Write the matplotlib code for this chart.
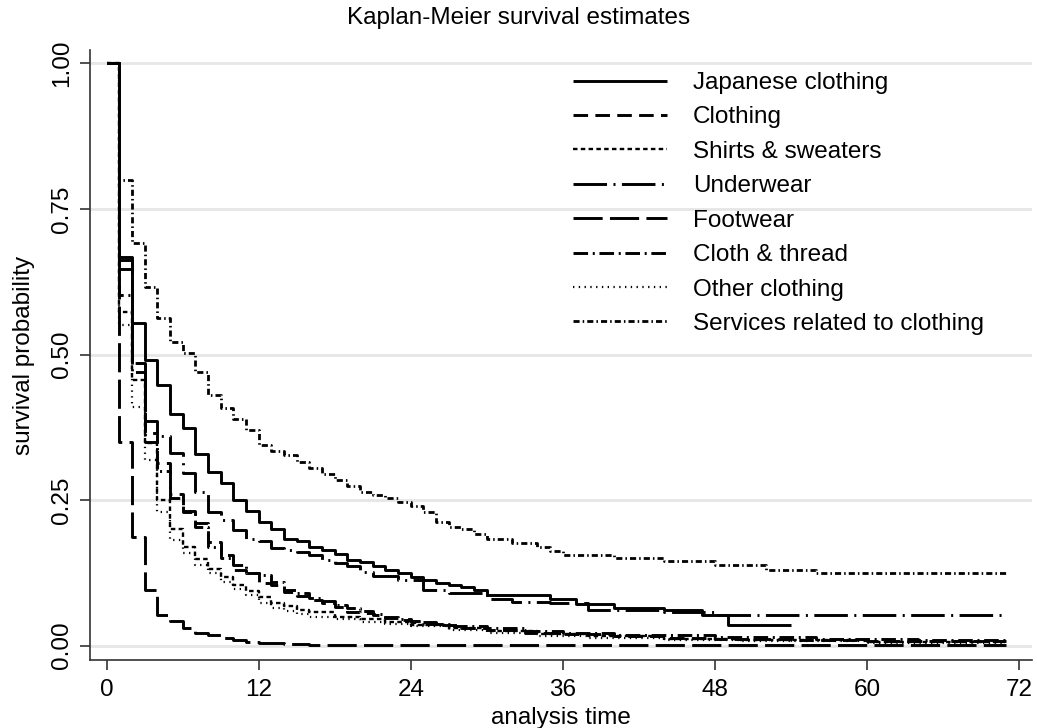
import matplotlib
matplotlib.use("Agg")
import matplotlib.pyplot as plt

plt.rcParams['font.family'] = ['Liberation Sans', 'DejaVu Sans']

# Kaplan-Meier step points (time in months, survival)
japanese_t = [0, 1, 2, 3, 4, 5, 6, 7, 8, 9, 10, 11, 12, 13, 14, 15, 16, 17, 18, 19, 20,
              21, 22, 23, 24, 25, 26, 27, 28, 29, 30, 35, 37, 40, 44, 47, 49, 54]
japanese_s = [1, 0.662, 0.554, 0.491, 0.448, 0.397, 0.373, 0.330, 0.298, 0.280, 0.250,
              0.232, 0.212, 0.200, 0.184, 0.179, 0.170, 0.164, 0.157, 0.147, 0.144,
              0.136, 0.130, 0.124, 0.118, 0.113, 0.108, 0.104, 0.100, 0.096, 0.087,
              0.081, 0.072, 0.064, 0.061, 0.052, 0.036, 0.036]

clothing_t = [0, 1, 2, 3, 4, 5, 6, 7, 8, 9, 10, 11, 12, 13, 14, 15, 16, 17, 18, 19, 20,
              21, 22, 23, 24, 26, 28, 30, 33, 36, 40, 44, 48, 54, 60, 71]
clothing_s = [1, 0.647, 0.485, 0.365, 0.313, 0.260, 0.232, 0.210, 0.178, 0.156, 0.130,
              0.125, 0.108, 0.104, 0.093, 0.085, 0.078, 0.073, 0.066, 0.058, 0.056,
              0.052, 0.047, 0.044, 0.040, 0.035, 0.030, 0.027, 0.022, 0.020, 0.016,
              0.013, 0.011, 0.010, 0.008, 0.008]

shirts_t = [0, 1, 2, 3, 4, 5, 6, 7, 8, 9, 10, 11, 12, 13, 14, 15, 16, 18, 20, 22, 24,
            27, 30, 34, 38, 44, 50, 60, 71]
shirts_s = [1, 0.573, 0.456, 0.348, 0.250, 0.200, 0.170, 0.148, 0.132, 0.118, 0.105,
            0.094, 0.083, 0.074, 0.068, 0.062, 0.057, 0.050, 0.045, 0.040, 0.036,
            0.031, 0.026, 0.020, 0.016, 0.012, 0.009, 0.006, 0.005]

underwear_t = [0, 1, 2, 3, 4, 5, 6, 7, 8, 9, 10, 11, 12, 13, 14, 15, 16, 17, 18, 19, 20,
               21, 23, 25, 27, 30, 32, 35, 38, 44, 48, 71]
underwear_s = [1, 0.668, 0.485, 0.385, 0.360, 0.331, 0.296, 0.264, 0.230, 0.216, 0.199,
               0.184, 0.179, 0.167, 0.164, 0.161, 0.156, 0.147, 0.142, 0.136, 0.127,
               0.120, 0.112, 0.096, 0.090, 0.080, 0.075, 0.073, 0.061, 0.058, 0.053,
               0.053]

footwear_t = [0, 1, 2, 3, 4, 5, 6, 7, 8, 9, 10, 11, 12, 14, 16, 20, 71]
footwear_s = [1, 0.350, 0.187, 0.096, 0.053, 0.042, 0.030, 0.022, 0.018, 0.013, 0.010,
              0.007, 0.005, 0.003, 0.002, 0.001, 0.001]

cloth_t = [0, 1, 2, 3, 4, 5, 6, 7, 8, 9, 10, 11, 12, 13, 14, 15, 16, 17, 18, 19, 20,
           21, 22, 23, 24, 25, 27, 30, 33, 36, 40, 48, 56, 64, 71]
cloth_s = [1, 0.603, 0.470, 0.350, 0.300, 0.253, 0.230, 0.204, 0.170, 0.150, 0.138,
           0.125, 0.121, 0.110, 0.096, 0.090, 0.082, 0.076, 0.069, 0.064, 0.059,
           0.055, 0.050, 0.046, 0.043, 0.038, 0.034, 0.030, 0.025, 0.022, 0.018,
           0.015, 0.012, 0.010, 0.010]

other_t = [0, 1, 2, 3, 4, 5, 6, 7, 8, 9, 10, 11, 12, 13, 14, 15, 16, 18, 20, 22, 24,
           27, 30, 34, 38, 44, 50, 60, 71]
other_s = [1, 0.550, 0.410, 0.319, 0.230, 0.181, 0.160, 0.139, 0.124, 0.110, 0.097,
           0.087, 0.073, 0.065, 0.059, 0.055, 0.050, 0.045, 0.041, 0.037, 0.033,
           0.027, 0.022, 0.017, 0.013, 0.010, 0.008, 0.005, 0.004]

services_t = [0, 1, 2, 3, 4, 5, 6, 7, 8, 9, 10, 11, 12, 13, 14, 15, 16, 17, 18, 19, 20,
              21, 22, 23, 24, 25, 26, 27, 28, 29, 30, 32, 34, 35, 36, 40, 44, 48, 52,
              56, 71]
services_s = [1, 0.800, 0.692, 0.616, 0.562, 0.522, 0.502, 0.470, 0.430, 0.408, 0.390,
              0.370, 0.345, 0.335, 0.327, 0.316, 0.305, 0.295, 0.285, 0.275, 0.264,
              0.259, 0.253, 0.246, 0.239, 0.230, 0.213, 0.204, 0.200, 0.192, 0.183,
              0.176, 0.170, 0.163, 0.156, 0.150, 0.145, 0.139, 0.130, 0.124, 0.124]

labels = ["Japanese clothing", "Clothing", "Shirts & sweaters", "Underwear",
          "Footwear", "Cloth & thread", "Other clothing", "Services related to clothing"]
series = [(japanese_t, japanese_s), (clothing_t, clothing_s), (shirts_t, shirts_s),
          (underwear_t, underwear_s), (footwear_t, footwear_s), (cloth_t, cloth_s),
          (other_t, other_s), (services_t, services_s)]
# dash patterns (in units of line width) and widths, per series
dash_styles = [None, (5.0, 2.5), (1.9, 1.4), (11.5, 2.2, 0.7, 2.2), (10.0, 2.5),
               (5.0, 1.6, 0.7, 1.6), (0.6, 2.0), (2.2, 1.1, 0.55, 1.1)]
widths = [2.1, 2.1, 1.7, 2.1, 2.1, 2.1, 1.6, 2.0]

fig = plt.figure(figsize=(10.37, 7.28), dpi=100)
ax = fig.add_axes([0.0868, 0.0934, 0.908, 0.838])

for (t, s), lab, d, w in zip(series, labels, dash_styles, widths):
    kw = dict(color='black', lw=w, drawstyle='steps-post', label=lab,
              solid_capstyle='butt', dash_capstyle='butt')
    if d is not None:
        kw['dashes'] = d
    ax.plot(t, s, **kw)

ax.set_xlim(-1.32, 73.0)
ax.set_ylim(-0.0246, 1.023)
ax.set_xticks([0, 12, 24, 36, 48, 60, 72])
ax.set_yticks([0, 0.25, 0.5, 0.75, 1.0])
ax.set_yticklabels(["0.00", "0.25", "0.50", "0.75", "1.00"], rotation=90, va='center')
ax.tick_params(axis='both', labelsize=17.5, length=7, width=1.2, color='#333333')
ax.tick_params(axis='y', pad=5)
ax.tick_params(axis='x', pad=7)
ax.grid(axis='y', color='#e6e6e6', lw=2)
ax.set_axisbelow(True)
for side in ['top', 'right']:
    ax.spines[side].set_visible(False)
for side in ['left', 'bottom']:
    ax.spines[side].set_linewidth(1.2)
    ax.spines[side].set_color('#333333')

ax.set_xlabel("analysis time", fontsize=17.5, labelpad=4)
ax.set_ylabel("survival probability", fontsize=17.5, labelpad=12)
fig.text(0.5, 0.975, "Kaplan-Meier survival estimates", fontsize=17.5,
         ha='center', va='center')

ax.legend(loc='upper left', bbox_to_anchor=(0.5525, 0.901),
          bbox_transform=fig.transFigure, frameon=False, fontsize=17.5,
          handlelength=3.87, handletextpad=1.07, labelspacing=0.51,
          borderpad=0, borderaxespad=0)

fig.savefig("out.png", dpi=100, facecolor='white')
